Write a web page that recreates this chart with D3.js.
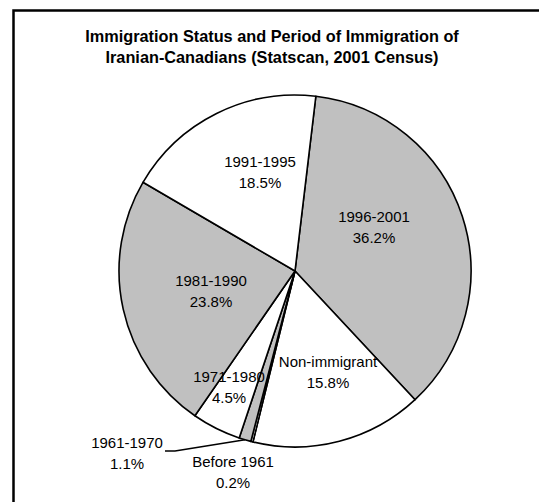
<!DOCTYPE html>
<html>
<head>
<meta charset="utf-8">
<script src="https://cdn.jsdelivr.net/npm/d3@7"></script>
<style>
  body { margin: 0; background: #fff; }
  text { font-family: "Liberation Sans", Arial, sans-serif; fill: #000; }
</style>
</head>
<body>
<div id="chart"></div>
<script>
(function () {
    var width = 539,
        height = 502;

    // slices, clockwise from the top
    var categories = ["1996-2001", "Non-immigrant", "Before 1961", "1961-1970", "1971-1980", "1981-1990", "1991-1995"];
    var shares = [36.2, 15.8, 0.2, 1.1, 4.5, 23.8, 18.5];
    var fills = ["#c0c0c0", "#ffffff", "#ffffff", "#c0c0c0", "#ffffff", "#c0c0c0", "#ffffff"];
    var titleLines = ["Immigration Status and Period of Immigration of", "Iranian-Canadians (Statscan, 2001 Census)"];

    // where Excel put each label (centre of the two lines)
    var labelAt = {
        "1996-2001": [374, 222],
        "Non-immigrant": [328, 367],
        "Before 1961": [233, 467],
        "1961-1970": [127, 448],
        "1971-1980": [229, 382],
        "1981-1990": [211, 286],
        "1991-1995": [260, 167]
    };

    var cx = 295, cy = 271, radius = 176;
    var start = 6.8 * Math.PI / 180;

    var data = categories.map(function (c, i) {
        return { name: c, value: shares[i], fill: fills[i] };
    });

    var svg = d3.select("#chart").append("svg")
        .attr("width", width)
        .attr("height", height);

    svg.append("rect")
        .attr("width", width)
        .attr("height", height)
        .attr("fill", "#fff");

    // chart area border (runs off the right and bottom)
    svg.append("rect")
        .attr("x", 13.5)
        .attr("y", 10.5)
        .attr("width", 700)
        .attr("height", 700)
        .attr("fill", "none")
        .attr("stroke", "#000")
        .attr("stroke-width", 2.5);

    svg.append("text")
        .attr("x", 272)
        .attr("text-anchor", "middle")
        .style("font-weight", "bold")
        .style("font-size", "16.3px")
        .selectAll("tspan")
        .data(titleLines)
        .enter().append("tspan")
        .attr("x", 272)
        .attr("y", function (d, i) { return 42 + i * 21; })
        .text(function (d) { return d; });

    var pie = d3.pie()
        .sort(null)
        .value(function (d) { return d.value; })
        .startAngle(start)
        .endAngle(start + 2 * Math.PI);

    var arc = d3.arc().innerRadius(0).outerRadius(radius);

    var g = svg.append("g")
        .attr("transform", "translate(" + cx + "," + cy + ")");

    g.selectAll(".slice")
        .data(pie(data))
        .enter().append("path")
        .attr("class", "slice")
        .attr("d", arc)
        .attr("fill", function (d) { return d.data.fill; })
        .attr("stroke", "#000")
        .attr("stroke-width", 1.6)
        .attr("stroke-linejoin", "round");

    // leader line for the 1961-1970 slice
    var small = pie(data)[3];
    var edgeAngle = (small.startAngle + small.endAngle) / 2;
    var ex = cx + radius * Math.sin(edgeAngle),
        ey = cy - radius * Math.cos(edgeAngle);
    svg.append("path")
        .attr("d", d3.line()([[165, 451], [175, 451], [ex, ey]]))
        .attr("fill", "none")
        .attr("stroke", "#000")
        .attr("stroke-width", 1.6);

    var labels = svg.selectAll(".label")
        .data(data)
        .enter().append("text")
        .attr("class", "label")
        .attr("text-anchor", "middle")
        .style("font-size", "15px");

    labels.append("tspan")
        .attr("x", function (d) { return labelAt[d.name][0]; })
        .attr("y", function (d) { return labelAt[d.name][1]; })
        .text(function (d) { return d.name; });

    labels.append("tspan")
        .attr("x", function (d) { return labelAt[d.name][0]; })
        .attr("y", function (d) { return labelAt[d.name][1] + 21; })
        .text(function (d) { return d3.format(".1f")(d.value) + "%"; });
})();
</script>
</body>
</html>
